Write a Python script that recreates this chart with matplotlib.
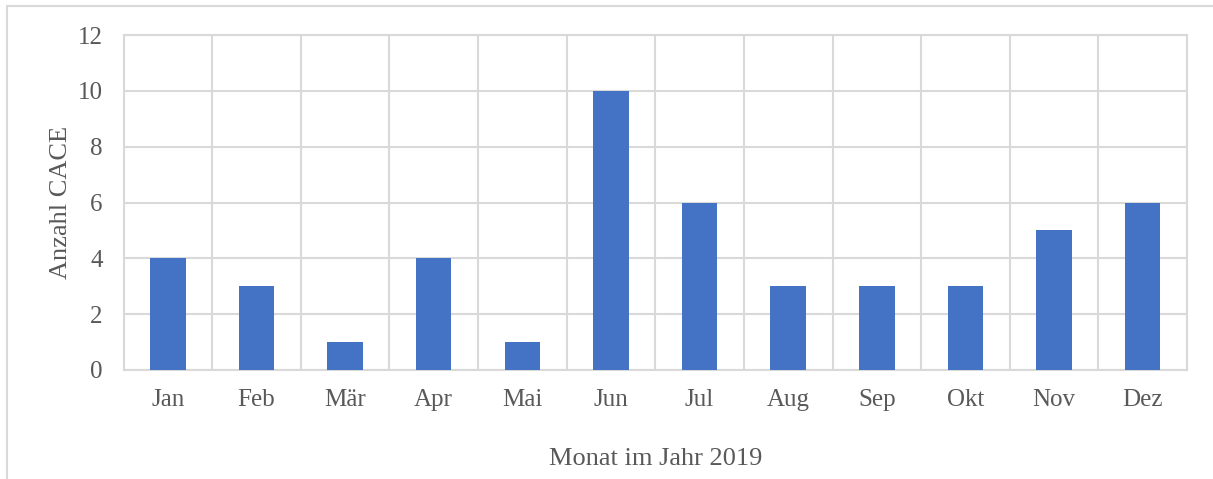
import matplotlib
matplotlib.use("Agg")
import matplotlib.pyplot as plt
from matplotlib.patches import Rectangle
from matplotlib.ticker import MultipleLocator, FixedLocator

months = ["Jan", "Feb", "Mär", "Apr", "Mai", "Jun", "Jul", "Aug", "Sep", "Okt", "Nov", "Dez"]
counts = [4, 3, 1, 4, 1, 10, 6, 3, 3, 3, 5, 6]
y_label = "Anzahl CACE"
x_label = "Monat im Jahr 2019"

W, H = 1213, 479
fig = plt.figure(figsize=(W / 100, H / 100), dpi=100)
plt.rcParams['font.family'] = ['Liberation Serif', 'DejaVu Serif']

grid_c = "#d9d9d9"
text_c = "#595959"

# outer chart border (top & left visible)
fig.patches.append(Rectangle((7 / W, -0.1), 1.2, 1 - 6 / H + 0.1, transform=fig.transFigure,
                             fill=False, edgecolor=grid_c, linewidth=1.5))

left, right, top, bottom = 123.5, 1187, 35, 370
ax = fig.add_axes([left / W, 1 - bottom / H, (right - left) / W, (bottom - top) / H])

x = list(range(len(months)))
ax.bar(x, counts, width=0.4, color="#4472C4", zorder=3)
ax.set_xlim(-0.5, len(months) - 0.5)
ax.set_ylim(0, 12)
ax.yaxis.set_major_locator(MultipleLocator(2))
ax.set_xticks(x)
ax.set_xticklabels(months)
ax.xaxis.set_minor_locator(FixedLocator([i - 0.5 for i in range(len(months) + 1)]))
ax.grid(axis="y", which="major", color=grid_c, linewidth=1.5, zorder=0)
ax.grid(axis="x", which="minor", color=grid_c, linewidth=1.5, zorder=0)
ax.tick_params(axis="both", which="both", length=0, labelsize=18, colors=text_c)
ax.tick_params(axis="x", pad=14)
ax.tick_params(axis="y", pad=15)
for s in ax.spines.values():
    s.set_color(grid_c)
    s.set_linewidth(1.5)

ax.set_ylabel(y_label, fontsize=19, color=text_c, labelpad=4)
ax.set_xlabel(x_label, fontsize=19, color=text_c, labelpad=26)

fig.savefig("out.png", dpi=100)
